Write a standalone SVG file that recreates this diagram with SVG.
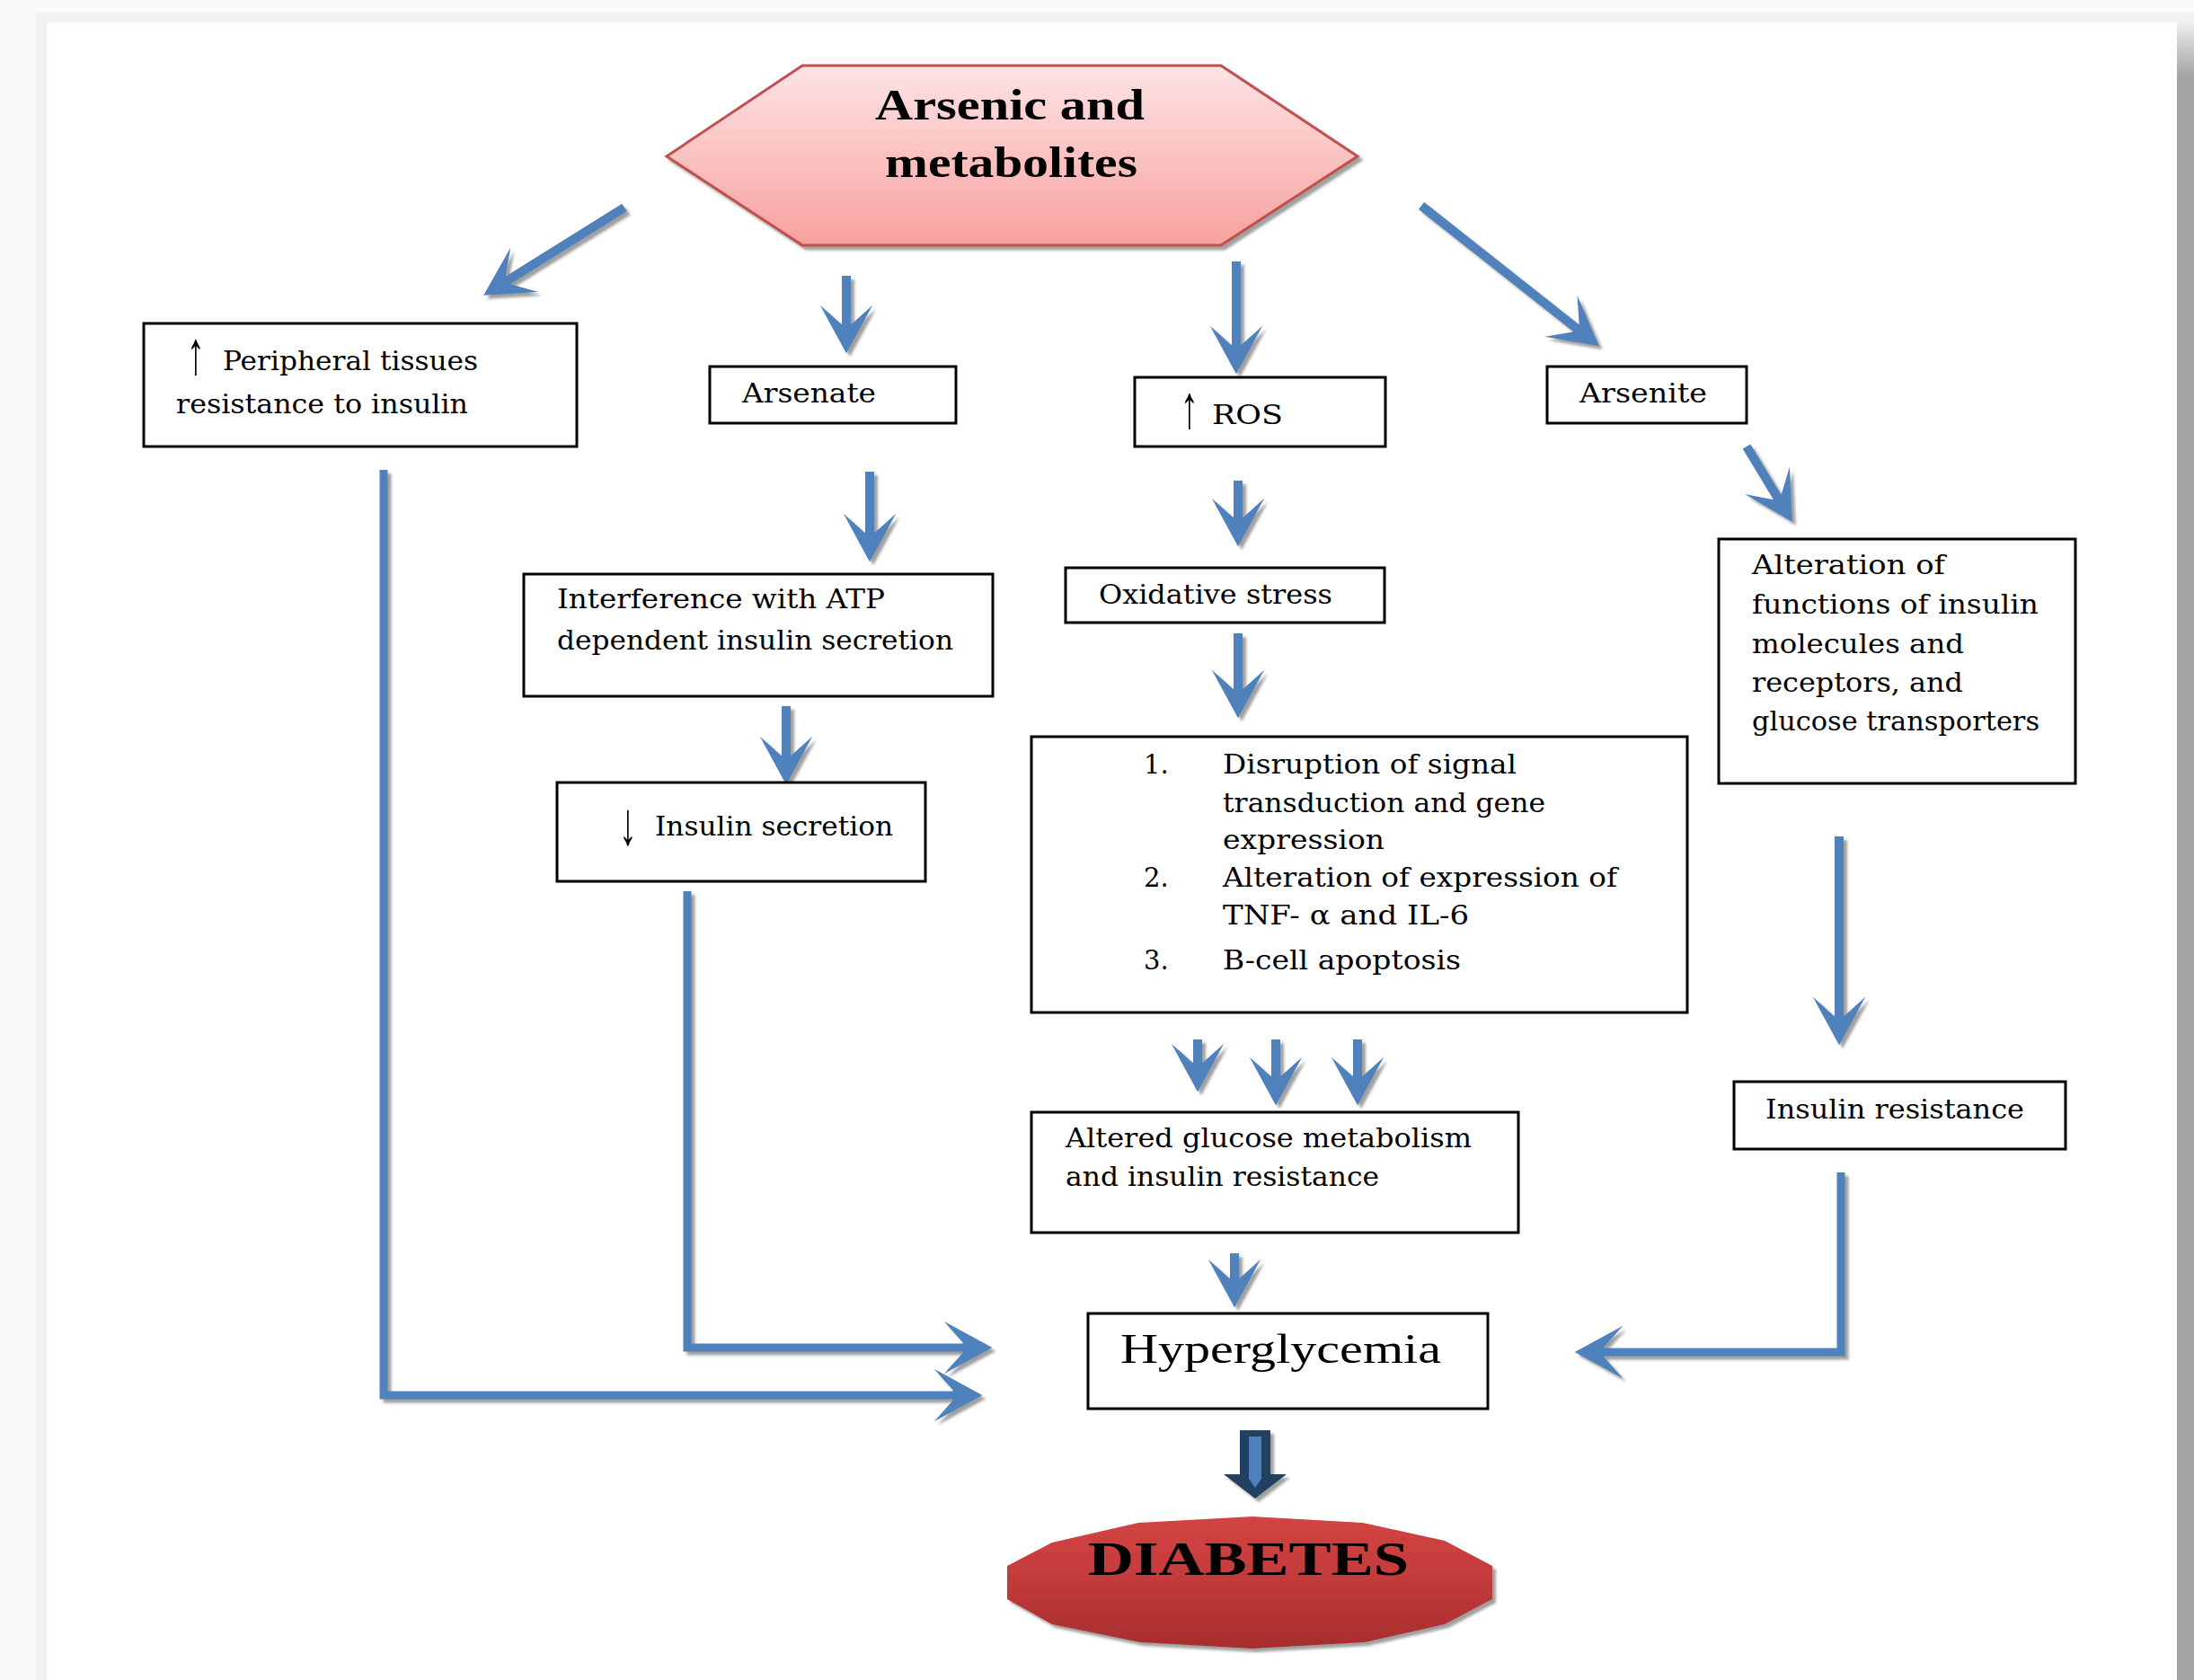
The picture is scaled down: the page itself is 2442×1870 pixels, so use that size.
<svg xmlns="http://www.w3.org/2000/svg" width="2442" height="1870" viewBox="0 0 2442 1870">
<style>
.box{fill:#fff;stroke:#000;stroke-width:3}
.t{font-family:"DejaVu Serif","Liberation Serif",serif;font-size:29px;fill:#000}
.sym{font-family:"Liberation Serif","DejaVu Serif",serif;font-size:40px;text-anchor:middle}
.arr{fill:none;stroke:#4f81bd;stroke-width:10;marker-end:url(#ah)}
.conn{fill:none;stroke:#4f81bd;stroke-width:9;stroke-linejoin:miter;marker-end:url(#ah)}
</style>
<defs>
<marker id="ah" markerUnits="userSpaceOnUse" markerWidth="70" markerHeight="70" viewBox="-50 -30 60 60" refX="-20" refY="0" orient="auto" overflow="visible">
<path d="M0,0 L-46,-25 L-28,-5 L-28,5 L-46,25 Z" fill="#4f81bd"/>
</marker>
<linearGradient id="hexg" x1="0" y1="0" x2="0" y2="1">
<stop offset="0" stop-color="#fde4e4"/>
<stop offset="1" stop-color="#f7a19f"/>
</linearGradient>
<linearGradient id="diag" x1="0" y1="0" x2="0" y2="1">
<stop offset="0" stop-color="#d44444"/>
<stop offset="0.5" stop-color="#c23a3a"/>
<stop offset="1" stop-color="#a52d2d"/>
</linearGradient>
<linearGradient id="rsh" x1="0" y1="0" x2="0" y2="1">
<stop offset="0" stop-color="#eeeeee"/>
<stop offset="1" stop-color="#a3a3a3"/>
</linearGradient>
<filter id="sh" x="-10%" y="-10%" width="130%" height="130%">
<feDropShadow dx="4" dy="4" stdDeviation="1.5" flood-color="#808080" flood-opacity="0.75"/>
</filter>
</defs>

<!-- page -->
<rect x="0" y="0" width="2442" height="1870" fill="#fafafa"/>
<rect x="40" y="14" width="2402" height="1856" fill="#f1f1f1"/>
<rect x="2423" y="25" width="19" height="60" fill="url(#rsh)"/>
<rect x="2423" y="85" width="19" height="1785" fill="#a3a3a3"/>
<rect x="52" y="25" width="2371" height="1845" fill="#ffffff"/>

<!-- connectors -->
<g id="connectors" filter="url(#sh)">
<line class="arr" x1="695" y1="231" x2="558" y2="316.4"/>
<line class="arr" x1="942" y1="307" x2="942" y2="370"/>
<line class="arr" x1="1376" y1="291" x2="1376" y2="393"/>
<line class="arr" x1="1582" y1="229" x2="1761.3" y2="370.6"/>
<line class="arr" x1="968" y1="525" x2="968" y2="602"/>
<line class="arr" x1="1378" y1="535" x2="1378" y2="585"/>
<line class="arr" x1="1378" y1="705" x2="1378" y2="776"/>
<line class="arr" x1="1944" y1="497" x2="1982.7" y2="560.9"/>
<line class="arr" x1="875" y1="786" x2="875" y2="850"/>
<line class="arr" x1="2047" y1="931" x2="2047" y2="1140"/>
<line class="arr" x1="1333" y1="1157" x2="1333" y2="1192"/>
<line class="arr" x1="1420" y1="1157" x2="1420" y2="1207"/>
<line class="arr" x1="1511" y1="1157" x2="1511" y2="1207"/>
<line class="arr" x1="1374" y1="1395" x2="1374" y2="1432"/>
<polyline class="conn" points="427,523 427,1553 1070,1553"/>
<polyline class="conn" points="765,992 765,1500 1081,1500"/>
<polyline class="conn" points="2049,1305 2049,1505 1776,1505"/>
<g id="block-arrow">
<polygon points="1380,1592 1414,1592 1414,1641 1432,1641 1397,1668 1362,1641 1380,1641" fill="#243f60"/>
<polygon points="1390,1599 1404,1599 1404,1646 1397,1656 1390,1646" fill="#4f81bd"/>
</g>
</g>

<!-- nodes -->
<g id="arsenic">
<polygon points="893,73 1359,73 1511,174 1359,273 893,273 742,174" fill="url(#hexg)" stroke="#c0504d" stroke-width="3" filter="url(#sh)"/>
<text x="974" y="133" font-family="Liberation Serif,serif" font-weight="bold" font-size="48" textLength="300" lengthAdjust="spacingAndGlyphs">Arsenic and</text>
<text x="985" y="197" font-family="Liberation Serif,serif" font-weight="bold" font-size="48" textLength="281" lengthAdjust="spacingAndGlyphs">metabolites</text>
</g>

<g id="peripheral">
<rect class="box" x="160" y="360" width="482" height="137"/>
<text class="sym" transform="translate(218,416) scale(1,1.7)">↑</text>
<text class="t" x="248" y="412" textLength="284" lengthAdjust="spacingAndGlyphs">Peripheral tissues</text>
<text class="t" x="196" y="460" textLength="325" lengthAdjust="spacingAndGlyphs">resistance to insulin</text>
</g>

<g id="arsenate">
<rect class="box" x="790" y="408" width="274" height="63"/>
<text class="t" x="826" y="448" textLength="149" lengthAdjust="spacingAndGlyphs">Arsenate</text>
</g>

<g id="ros">
<rect class="box" x="1263" y="420" width="279" height="77"/>
<text class="sym" transform="translate(1324,476) scale(1,1.7)">↑</text>
<text class="t" x="1349" y="472" textLength="79" lengthAdjust="spacingAndGlyphs">ROS</text>
</g>

<g id="arsenite">
<rect class="box" x="1722" y="408" width="222" height="63"/>
<text class="t" x="1758" y="448" textLength="142" lengthAdjust="spacingAndGlyphs">Arsenite</text>
</g>

<g id="interference">
<rect class="box" x="583" y="639" width="522" height="136"/>
<text class="t" x="620" y="677" textLength="365" lengthAdjust="spacingAndGlyphs">Interference with ATP</text>
<text class="t" x="620" y="723" textLength="441" lengthAdjust="spacingAndGlyphs">dependent insulin secretion</text>
</g>

<g id="oxidative">
<rect class="box" x="1186" y="632" width="355" height="61"/>
<text class="t" x="1223" y="672" textLength="260" lengthAdjust="spacingAndGlyphs">Oxidative stress</text>
</g>

<g id="alteration">
<rect class="box" x="1913" y="600" width="397" height="272"/>
<text class="t" x="1950" y="639" textLength="215" lengthAdjust="spacingAndGlyphs">Alteration of</text>
<text class="t" x="1950" y="683" textLength="319" lengthAdjust="spacingAndGlyphs">functions of insulin</text>
<text class="t" x="1950" y="727" textLength="236" lengthAdjust="spacingAndGlyphs">molecules and</text>
<text class="t" x="1950" y="770" textLength="235" lengthAdjust="spacingAndGlyphs">receptors, and</text>
<text class="t" x="1950" y="813" textLength="320" lengthAdjust="spacingAndGlyphs">glucose transporters</text>
</g>

<g id="insulin-secretion">
<rect class="box" x="620" y="871" width="410" height="110"/>
<text class="sym" transform="translate(699,940) scale(1,1.7)">↓</text>
<text class="t" x="729" y="930" textLength="265" lengthAdjust="spacingAndGlyphs">Insulin secretion</text>
</g>

<g id="effects">
<rect class="box" x="1148" y="820" width="730" height="307"/>
<text class="t" x="1273" y="861">1.</text>
<text class="t" x="1361" y="861" textLength="327" lengthAdjust="spacingAndGlyphs">Disruption of signal</text>
<text class="t" x="1361" y="904" textLength="359" lengthAdjust="spacingAndGlyphs">transduction and gene</text>
<text class="t" x="1361" y="945" textLength="180" lengthAdjust="spacingAndGlyphs">expression</text>
<text class="t" x="1273" y="987">2.</text>
<text class="t" x="1361" y="987" textLength="439" lengthAdjust="spacingAndGlyphs">Alteration of expression of</text>
<text class="t" x="1361" y="1029" textLength="274" lengthAdjust="spacingAndGlyphs">TNF- α and IL-6</text>
<text class="t" x="1273" y="1079">3.</text>
<text class="t" x="1361" y="1079" textLength="265" lengthAdjust="spacingAndGlyphs">B-cell apoptosis</text>
</g>

<g id="insulin-resistance">
<rect class="box" x="1930" y="1204" width="369" height="75"/>
<text class="t" x="1965" y="1245" textLength="288" lengthAdjust="spacingAndGlyphs">Insulin resistance</text>
</g>

<g id="altered">
<rect class="box" x="1148" y="1238" width="542" height="134"/>
<text class="t" x="1186" y="1277" textLength="452" lengthAdjust="spacingAndGlyphs">Altered glucose metabolism</text>
<text class="t" x="1186" y="1320" textLength="349" lengthAdjust="spacingAndGlyphs">and insulin resistance</text>
</g>

<g id="hyperglycemia">
<rect class="box" x="1211" y="1462" width="445" height="106"/>
<text x="1247" y="1517" font-family="Liberation Serif,serif" font-size="46" textLength="357" lengthAdjust="spacingAndGlyphs">Hyperglycemia</text>
</g>

<g id="diabetes">
<polygon points="1121,1743 1171,1717 1267,1695 1394,1688 1517,1695 1608,1715 1661,1743 1661,1780 1608,1808 1519,1828 1394,1835 1269,1828 1171,1808 1121,1780" fill="url(#diag)" filter="url(#sh)"/>
<text x="1211" y="1753" font-family="Liberation Serif,serif" font-weight="bold" font-size="52" textLength="357" lengthAdjust="spacingAndGlyphs">DIABETES</text>
</g>
</svg>
